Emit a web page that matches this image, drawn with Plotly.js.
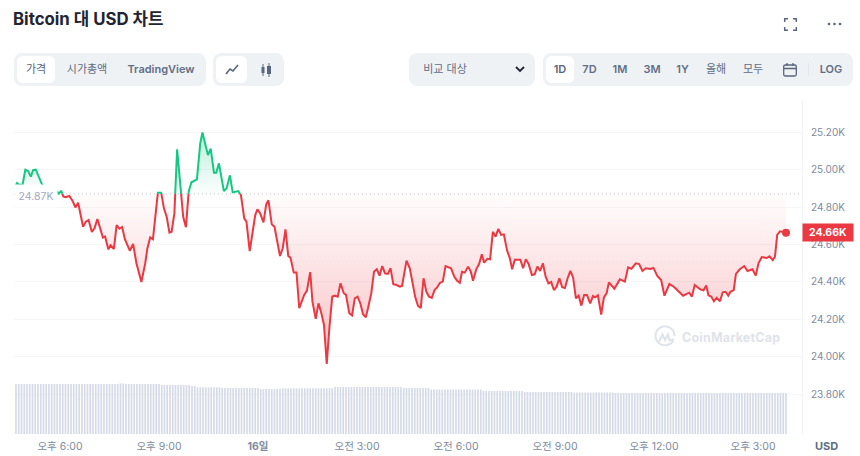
<!DOCTYPE html>
<html lang="ko">
<head>
<meta charset="utf-8">
<title>Bitcoin 대 USD 차트</title>
<script src="https://cdn.plot.ly/plotly-3.0.1.min.js"></script>
<style>
  html, body { margin: 0; padding: 0; background: #fff; }
  body { width: 860px; height: 456px; overflow: hidden; position: relative;
         font-family: Inter, "Noto Sans CJK KR", sans-serif; }
  #chart { position: absolute; left: 0; top: 0; width: 860px; height: 456px; }
  .box { position: absolute; background: #eff2f5; border-radius: 8px; height: 33px; top: 53px; }
  .sel { position: absolute; background: #fff; border-radius: 6px; height: 27px; top: 56px; }
  .lb { position: absolute; top: 53px; height: 33px; line-height: 32px; transform: translateX(-50%);
        font-size: 11px; font-weight: 600; color: #616e85; white-space: nowrap; }
  .lb.k { font-weight: 400; }
  .lb.on { color: #58667e; }
  svg.ic { position: absolute; overflow: visible; }
  #wm { position: absolute; left: 682px; top: 328px; font-size: 12.5px; font-weight: 700; color: #dfe3ea;
        letter-spacing: 0.2px; line-height: 20px; }
</style>
</head>
<body>
<div id="chart"></div>

<!-- toolbar -->
<div class="box" style="left:14px;width:192px"></div>
<div class="sel" style="left:17px;width:38px"></div>
<div class="lb k on" style="left:36px">가격</div>
<div class="lb k" style="left:87px">시가총액</div>
<div class="lb" style="left:161px">TradingView</div>

<div class="box" style="left:213px;width:71px"></div>
<div class="sel" style="left:216px;width:31px"></div>
<svg class="ic" style="left:225px;top:63px" width="14" height="13" fill="none" stroke="#58667e" stroke-width="1.6"><path d="M1 11 L5 6 L8 8 L13 2"/></svg>
<svg class="ic" style="left:260px;top:63px" width="12" height="14" stroke="#58667e" fill="#58667e"><path d="M3 1V13M9 0V14" stroke-width="1"/><rect x="1.5" y="4" width="3" height="6" stroke="none"/><rect x="7" y="3" width="4" height="8" stroke="none"/></svg>

<div class="box" style="left:409px;width:126px"></div>
<div class="lb k" style="left:445px">비교 대상</div>
<svg class="ic" style="left:515px;top:66px" width="10" height="7" fill="none" stroke="#222531" stroke-width="1.8"><path d="M1 1 L5 5 L9 1"/></svg>

<div class="box" style="left:543px;width:310px"></div>
<div class="sel" style="left:546px;width:28px"></div>
<div class="lb on" style="left:560px">1D</div>
<div class="lb" style="left:589.5px">7D</div>
<div class="lb" style="left:620px">1M</div>
<div class="lb" style="left:652px">3M</div>
<div class="lb" style="left:682.5px">1Y</div>
<div class="lb k" style="left:716px">올해</div>
<div class="lb k" style="left:753px">모두</div>
<svg class="ic" style="left:783px;top:63px" width="14" height="14" fill="none" stroke="#58667e" stroke-width="1.3"><rect x="0.7" y="2" width="12.6" height="11" rx="1.5"/><path d="M0.7 5.5H13.3M4 0V3M10 0V3"/></svg>
<div style="position:absolute;left:808px;top:63px;width:1px;height:13px;background:#e3e7ee"></div>
<div class="lb" style="left:831px">LOG</div>

<!-- top right icons -->
<svg class="ic" style="left:784px;top:18px" width="13" height="13" fill="none" stroke="#58667e" stroke-width="1.5"><path d="M0.7 4V0.7H4M9 0.7H12.3V4M12.3 9V12.3H9M4 12.3H0.7V9"/></svg>
<svg class="ic" style="left:827px;top:22px" width="15" height="4" fill="#58667e"><circle cx="2" cy="2" r="1.3"/><circle cx="7.5" cy="2" r="1.3"/><circle cx="13" cy="2" r="1.3"/></svg>

<!-- watermark -->
<svg class="ic" style="left:654px;top:327px" width="22" height="22" fill="none" stroke="#dfe3ea" stroke-width="2"><path d="M19.5 13 A9.5 9.5 0 1 1 20.5 9"/><path d="M5 15 L8.5 7.5 L11 13 L14 7.5 L15.5 13.5 L19.5 12"/></svg>
<div id="wm">CoinMarketCap</div>

<script>
// minutes after 18:00 on the 15th
const minutes = [
  -80, -78, -74, -68, -63, -58, -53, -49, -44, -39, -32, -18, -11, -6, -2, 2, 6, 10, 17, 23,
  28, 33, 42, 47, 52, 58, 63, 68, 73, 78, 82, 88, 92, 98, 103, 108, 113, 118, 127, 133,
  139, 148, 155, 159, 164, 169, 178, 184, 189, 194, 199, 203, 208, 213, 224, 229, 234, 239, 249, 255,
  259, 269, 274, 280, 284, 289, 298, 303, 309, 314, 324, 329, 335, 339, 345, 355, 359, 364, 370, 375,
  379, 385, 390, 400, 405, 410, 415, 419, 425, 430, 435, 439, 444, 449, 455, 459, 465, 470, 475, 480,
  485, 490, 495, 500, 505, 510, 516, 520, 526, 531, 536, 541, 546, 551, 556, 560, 566, 571, 576, 581,
  586, 591, 596, 601, 606, 612, 618, 622, 630, 636, 641, 646, 651, 656, 661, 666, 671, 676, 681, 686,
  691, 696, 701, 707, 711, 717, 722, 727, 731, 736, 742, 747, 751, 757, 762, 767, 771, 777, 782, 787,
  792, 797, 802, 807, 813, 818, 822, 827, 837, 842, 847, 852, 858, 863, 868, 873, 878, 883, 888, 893,
  898, 903, 908, 913, 918, 923, 928, 933, 938, 943, 948, 953, 958, 964, 969, 973, 978, 984, 989, 994,
  998, 1008, 1018, 1027, 1033, 1039, 1047, 1053, 1059, 1065, 1073, 1079, 1086, 1093, 1099, 1108, 1116, 1133, 1144, 1149,
  1154, 1164, 1170, 1175, 1179, 1184, 1189, 1194, 1200, 1205, 1210, 1215, 1219, 1225, 1229, 1236, 1244, 1250, 1259, 1265,
  1270, 1276, 1285, 1290, 1296, 1300, 1304, 1309, 1320
];

const prices = [
  24917, 24928, 24919, 24919, 24999, 24992, 24962, 24997, 24999, 24962, 24916, 24901, 24891, 24884, 24871, 24887, 24857, 24853, 24859, 24832,
  24798, 24823, 24695, 24722, 24731, 24667, 24688, 24736, 24683, 24637, 24643, 24574, 24596, 24576, 24704, 24684, 24693, 24628, 24567, 24603,
  24500, 24400, 24500, 24580, 24638, 24628, 24876, 24876, 24793, 24748, 24663, 24668, 24766, 25108, 24748, 24692, 24882, 24932, 24948, 25140,
  25198, 25077, 25111, 24983, 24983, 25033, 24885, 24900, 24969, 24878, 24885, 24864, 24740, 24722, 24565, 24757, 24788, 24766, 24718, 24814,
  24836, 24708, 24695, 24539, 24580, 24681, 24539, 24530, 24450, 24450, 24260, 24295, 24331, 24354, 24453, 24295, 24203, 24286, 24236, 24171,
  23963, 24162, 24322, 24327, 24322, 24393, 24340, 24331, 24233, 24222, 24313, 24322, 24286, 24228, 24212, 24260, 24340, 24455, 24468, 24434,
  24485, 24446, 24443, 24473, 24388, 24384, 24375, 24379, 24514, 24473, 24402, 24318, 24272, 24261, 24420, 24348, 24322, 24315, 24357, 24372,
  24396, 24402, 24485, 24480, 24473, 24428, 24407, 24396, 24455, 24450, 24482, 24455, 24407, 24469, 24496, 24548, 24503, 24524, 24521, 24668,
  24642, 24683, 24651, 24654, 24567, 24526, 24468, 24519, 24519, 24473, 24521, 24496, 24437, 24441, 24482, 24459, 24500, 24428, 24393, 24400,
  24357, 24375, 24420, 24372, 24368, 24420, 24459, 24423, 24313, 24327, 24274, 24331, 24331, 24286, 24325, 24318, 24329, 24226, 24318, 24341,
  24398, 24364, 24414, 24402, 24478, 24471, 24500, 24496, 24459, 24473, 24469, 24475, 24432, 24411, 24327, 24389, 24375, 24327, 24343, 24322,
  24384, 24361, 24356, 24382, 24329, 24322, 24297, 24316, 24297, 24345, 24348, 24327, 24348, 24357, 24443, 24468, 24485, 24459, 24468, 24434,
  24500, 24533, 24528, 24537, 24517, 24535, 24651, 24670, 24663
];

// one volume bar every 5 minutes, from -80 to 1320
const volumes = [
  50, 50, 50, 50, 50, 50, 50, 50, 50, 50, 50, 50, 50, 50, 50, 50, 50, 50, 50, 50,
  50, 50, 50, 50, 50, 50, 50, 50, 50, 50, 50, 50, 50, 50, 50, 50, 50, 50, 50.5, 50.5,
  50, 50, 50, 50, 50, 50, 50, 50, 50, 50, 50, 50, 50, 49, 49, 49, 49, 49, 49, 49,
  49, 49, 49, 49, 48, 48, 46.7, 46.7, 46.7, 46.7, 46.7, 46.7, 46.7, 46.7, 46.7, 46, 46, 46, 46, 46,
  46, 46, 46, 46, 46, 46, 46, 46, 46, 45, 45, 45, 45, 45, 45, 45, 45, 45.7, 45.7, 45.7,
  45.7, 45.7, 45.7, 45.7, 45.7, 45.7, 45.7, 45.7, 45.7, 45.7, 45.7, 45.7, 45.7, 45.7, 45.7, 45.7, 47, 47, 47, 47,
  47, 47, 47, 47, 47, 47, 47, 47, 47, 47, 47, 47, 47, 47, 47, 47, 47, 47, 47, 47,
  47, 46, 46, 46, 46, 46, 46, 46, 46, 46, 46, 44.5, 44.5, 44.5, 44.5, 44.5, 44.5, 44.5, 44.5, 44.5,
  44.5, 44.5, 44.5, 44.5, 44.5, 44.5, 44.5, 44.5, 44.5, 44.5, 43, 43, 43, 43, 43, 43, 43, 43, 43, 43,
  43, 43, 43, 43, 43, 42, 42, 42, 42, 42, 42, 42, 42, 42, 42, 42, 42, 42, 42, 42,
  42, 42, 42, 41.5, 41.5, 41.5, 41.5, 41.5, 41.5, 41.5, 41.5, 41.5, 41.5, 41.5, 41.5, 41.5, 41.5, 41.5, 41, 41,
  41, 41, 41, 41, 41, 41, 41, 41, 41, 41, 41, 41, 41, 41, 41, 41, 41, 41, 41, 41,
  41, 41, 41, 41, 41, 41, 41, 41, 41, 41, 41, 41, 41, 41, 41, 41, 41, 41, 41, 41,
  41, 41, 41, 41, 41, 41, 41, 41, 41, 41, 41, 41, 41, 41, 41, 41, 41, 41, 41, 41,
  41
];

const basePrice = 24870;
const priceTicks = [23800, 24000, 24200, 24400, 24600, 24800, 25000, 25200];
const priceLabels = ["23.80K", "24.00K", "24.20K", "24.40K", "24.60K", "24.80K", "25.00K", "25.20K"];
const timeTicks = [0, 180, 360, 540, 720, 900, 1080, 1260];
const timeLabels = ["오후 6:00", "오후 9:00", "<b>16일</b>", "오전 3:00", "오전 6:00", "오전 9:00", "오후 12:00", "오후 3:00"];

const C = {
  red: "#ea3943",
  green: "#16c784",
  gray: "#808a9d",
  grid: "#f5f6f8",
  bar: "#d5dbe6"
};

// split the line where it crosses the opening price
const mergedX = [], mergedY = [], upLineY = [], downLineY = [];
minutes.forEach((m, i) => {
  if (i > 0) {
    const a = prices[i - 1], b = prices[i];
    if ((a - basePrice) * (b - basePrice) < 0) {
      mergedX.push(minutes[i - 1] + (m - minutes[i - 1]) * (basePrice - a) / (b - a));
      mergedY.push(basePrice);
      upLineY.push(basePrice);
      downLineY.push(basePrice);
    }
  }
  mergedX.push(m);
  mergedY.push(prices[i]);
  upLineY.push(prices[i] >= basePrice ? prices[i] : null);
  downLineY.push(prices[i] <= basePrice ? prices[i] : null);
});
const baseY = mergedX.map(() => basePrice);

const traces = [
  {
    x0: -80, dx: 5, y: volumes, type: "bar", yaxis: "y2",
    marker: { color: C.bar, line: { width: 0 } }, hoverinfo: "skip"
  },
  { x: mergedX, y: baseY, mode: "lines", line: { width: 0 }, hoverinfo: "skip" },
  {
    x: mergedX, y: mergedY.map((v) => Math.min(v, basePrice)), mode: "lines", line: { width: 0 },
    fill: "tonexty", hoverinfo: "skip",
    fillgradient: {
      type: "vertical", start: basePrice, stop: 24000,
      colorscale: [[0, "rgba(234,57,67,0.01)"], [1, "rgba(234,57,67,0.30)"]]
    }
  },
  { x: mergedX, y: baseY, mode: "lines", line: { width: 0 }, hoverinfo: "skip" },
  {
    x: mergedX, y: mergedY.map((v) => Math.max(v, basePrice)), mode: "lines", line: { width: 0 },
    fill: "tonexty", hoverinfo: "skip",
    fillgradient: {
      type: "vertical", start: basePrice, stop: 25200,
      colorscale: [[0, "rgba(22,199,132,0.01)"], [1, "rgba(22,199,132,0.30)"]]
    }
  },
  { x: mergedX, y: upLineY, mode: "lines", line: { color: C.green, width: 2 } },
  { x: mergedX, y: downLineY, mode: "lines", line: { color: C.red, width: 2 } },
  {
    x: minutes.slice(-1), y: prices.slice(-1), mode: "markers",
    marker: { color: C.red, size: 8 }
  }
];

const layout = {
  width: 860,
  height: 456,
  showlegend: false,
  hovermode: false,
  paper_bgcolor: "rgba(0,0,0,0)",
  plot_bgcolor: "rgba(0,0,0,0)",
  margin: { l: 14, r: 58, t: 100, b: 22, pad: 0 },
  font: { family: 'Inter, "Noto Sans CJK KR", sans-serif', size: 11, color: C.gray },
  bargap: 0.38,
  title: {
    text: "<b>Bitcoin 대 USD 차트</b>",
    x: 13 / 860, xref: "container", xanchor: "left",
    y: 1 - 19 / 456, yref: "container", yanchor: "middle",
    font: { size: 16.8, color: "#222531" }
  },
  xaxis: {
    range: [-83.6, 1349.1],
    tickmode: "array",
    tickvals: timeTicks,
    ticktext: timeLabels,
    showgrid: false,
    zeroline: false,
    showline: false,
    ticks: "",
    ticklabelstandoff: 4,
    tickfont: { size: 10.5, color: C.gray }
  },
  yaxis: {
    side: "right",
    range: [23589, 25371],
    tickmode: "array",
    tickvals: priceTicks,
    ticktext: priceLabels,
    showgrid: true,
    gridcolor: C.grid,
    gridwidth: 1,
    zeroline: false,
    showline: true,
    linecolor: "#f1f3f6",
    ticks: "",
    ticklabelstandoff: 6,
    tickfont: { size: 10, color: C.gray }
  },
  yaxis2: {
    overlaying: "y",
    range: [0, 334],
    visible: false
  },
  shapes: [
    {
      type: "line", layer: "below", xref: "paper", x0: 0, x1: 1, yref: "y", y0: basePrice, y1: basePrice,
      line: { color: "#c2c8d4", width: 1, dash: "1px,3px" }
    }
  ],
  annotations: [
    {
      xref: "paper", x: 0, xanchor: "left", yref: "y", y: 24860, yanchor: "middle",
      text: "24.87K", showarrow: false, bgcolor: "#ffffff", width: 40, height: 20, align: "center",
      font: { size: 10.5, color: "#a1a7bb" }
    },
    {
      xref: "paper", x: 1, xanchor: "left", yref: "y", y: prices[prices.length - 1], yanchor: "middle",
      text: "<b>24.66K</b>", showarrow: false, bgcolor: C.red, width: 48, height: 15, align: "center",
      font: { size: 10.5, color: "#ffffff" }
    },
    {
      xref: "paper", x: 813 / 788, xanchor: "center", yref: "paper", y: -12 / 334, yanchor: "middle",
      text: "<b>USD</b>", showarrow: false, font: { size: 11, color: "#616e85" }
    }
  ]
};

Plotly.newPlot("chart", traces, layout, { displayModeBar: false, staticPlot: true });
</script>
</body>
</html>
